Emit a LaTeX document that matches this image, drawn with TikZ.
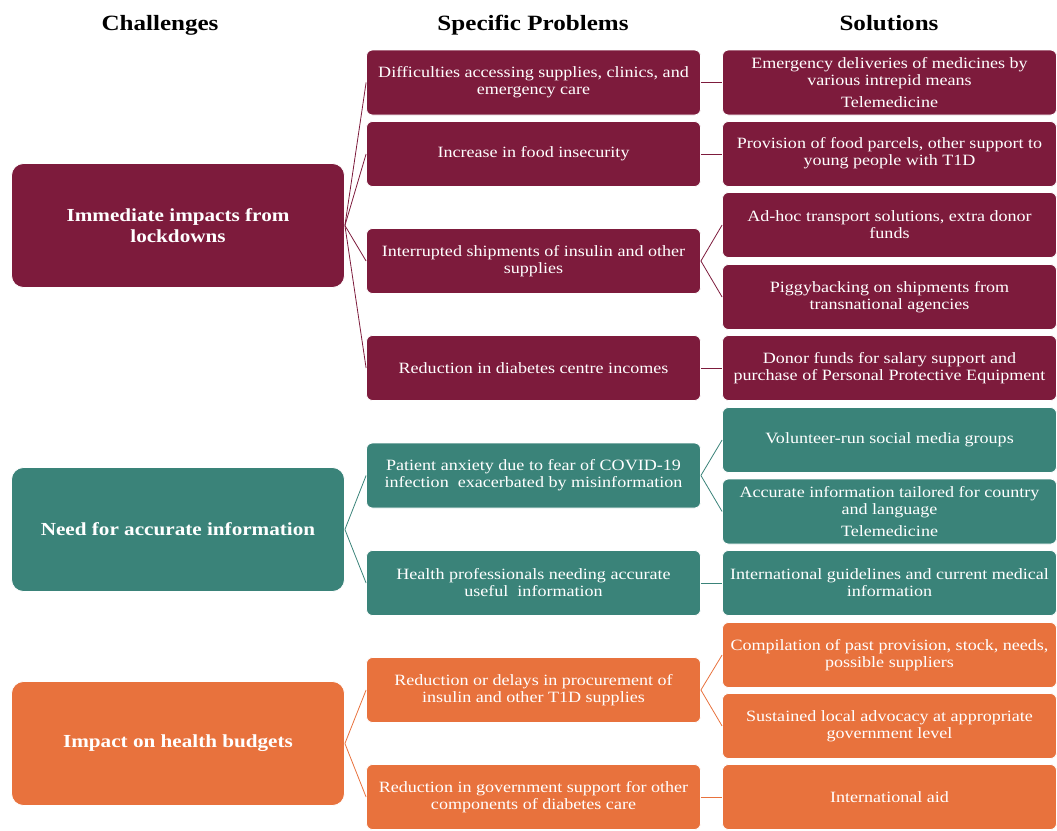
\documentclass[tikz,border=0pt]{standalone}
\usepackage{fontspec}
\setmainfont[FakeStretch=1.15]{Liberation Serif}
\begin{document}
\definecolor{maroon}{RGB}{125,27,60}
\definecolor{teal}{RGB}{58,131,121}
\definecolor{orangeb}{RGB}{232,114,61}
\begin{tikzpicture}[x=1pt,y=-1pt,
  head/.style={font=\fontsize{21.8}{24}\selectfont\bfseries, text=black, anchor=base},
  chal/.style={draw=white, line width=0.8pt, rounded corners=12pt, minimum width=333pt, minimum height=124pt, text=white, align=center, font=\fontsize{18.4}{20.5}\selectfont\bfseries},
  prob/.style={draw=white, line width=0.8pt, rounded corners=6pt, minimum width=334pt, minimum height=65pt, text=white, align=center, font=\fontsize{15.7}{17}\selectfont, inner sep=2pt},
  link/.style={line width=0.8pt}
]
\useasboundingbox (0,0) rectangle (1057,830);

% column headings
\node[head] (h1) at (160,30) {Challenges};
\node[head] (h2) at (533,30) {Specific Problems};
\node[head] (h3) at (889,30) {Solutions};

% challenges
\node[chal, fill=maroon] (c1) at (178,225.5) {Immediate impacts from\\lockdowns};
\node[chal, fill=teal] (c2) at (178,529.5) {Need for accurate information};
\node[chal, fill=orangeb] (c3) at (178,743.5) {Impact on health budgets};

% specific problems
\node[prob, fill=maroon] (p1) at (533.5,82.5) {Difficulties accessing supplies, clinics, and\\emergency care};
\node[prob, fill=maroon] (p2) at (533.5,154) {Increase in food insecurity};
\node[prob, fill=maroon] (p3) at (533.5,261) {Interrupted shipments of insulin and other\\supplies};
\node[prob, fill=maroon] (p4) at (533.5,368) {Reduction in diabetes centre incomes};
\node[prob, fill=teal] (p5) at (533.5,475.5) {Patient anxiety due to fear of COVID-19\\infection\ \ exacerbated by misinformation};
\node[prob, fill=teal] (p6) at (533.5,583) {Health professionals needing accurate\\useful\ \ information};
\node[prob, fill=orangeb] (p7) at (533.5,690) {Reduction or delays in procurement of\\insulin and other T1D supplies};
\node[prob, fill=orangeb] (p8) at (533.5,797) {Reduction in government support for other\\components of diabetes care};

% solutions
\node[prob, fill=maroon] (s1) at (889.5,82.5) {Emergency deliveries of medicines by\\various intrepid means\\[5pt]Telemedicine};
\node[prob, fill=maroon] (s2) at (889.5,154) {Provision of food parcels, other support to\\young people with T1D\\[-11pt]};
\node[prob, fill=maroon] (s3) at (889.5,225) {Ad-hoc transport solutions, extra donor\\funds};
\node[prob, fill=maroon] (s4) at (889.5,297) {Piggybacking on shipments from\\transnational agencies};
\node[prob, fill=maroon] (s5) at (889.5,368) {Donor funds for salary support and\\purchase of Personal Protective Equipment};
\node[prob, fill=teal] (s6) at (889.5,440) {Volunteer-run social media groups};
\node[prob, fill=teal] (s7) at (889.5,511.5) {Accurate information tailored for country\\and language\\[5pt]Telemedicine};
\node[prob, fill=teal] (s8) at (889.5,583) {International guidelines and current medical\\information};
\node[prob, fill=orangeb] (s9) at (889.5,655) {Compilation of past provision, stock, needs,\\possible suppliers};
\node[prob, fill=orangeb] (s10) at (889.5,726) {Sustained local advocacy at appropriate\\government level};
\node[prob, fill=orangeb] (s11) at (889.5,797) {International aid};

% connectors: challenges to problems
\foreach \p in {p1,p2,p3,p4} \draw[link, maroon] (c1.east) -- (\p.west);
\foreach \p in {p5,p6} \draw[link, teal] (c2.east) -- (\p.west);
\foreach \p in {p7,p8} \draw[link, orangeb] (c3.east) -- (\p.west);

% connectors: problems to solutions
\draw[link, maroon] (p1.east) -- (s1.west);
\draw[link, maroon] (p2.east) -- (s2.west);
\draw[link, maroon] (p3.east) -- (s3.west);
\draw[link, maroon] (p3.east) -- (s4.west);
\draw[link, maroon] (p4.east) -- (s5.west);
\draw[link, teal] (p5.east) -- (s6.west);
\draw[link, teal] (p5.east) -- (s7.west);
\draw[link, teal] (p6.east) -- (s8.west);
\draw[link, orangeb] (p7.east) -- (s9.west);
\draw[link, orangeb] (p7.east) -- (s10.west);
\draw[link, orangeb] (p8.east) -- (s11.west);
\end{tikzpicture}
\end{document}
